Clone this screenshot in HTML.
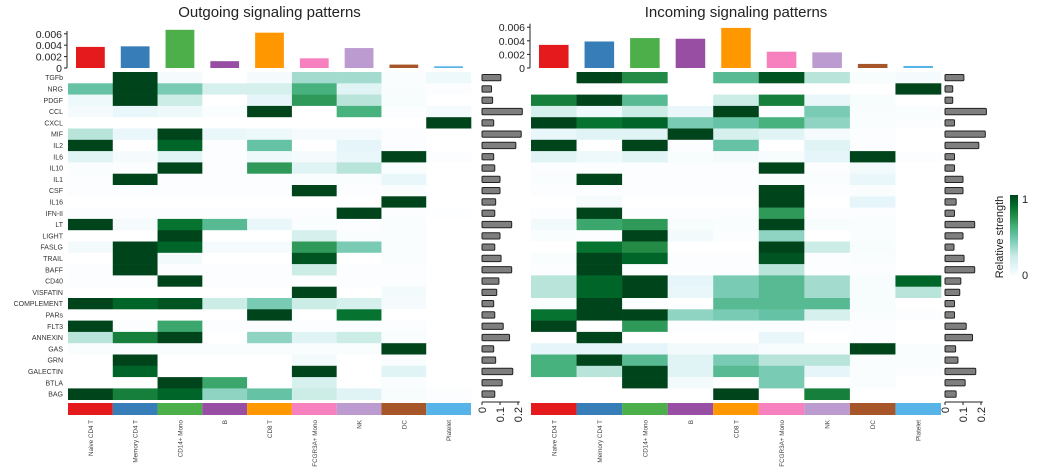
<!DOCTYPE html>
<html><head><meta charset="utf-8">
<style>
html,body{margin:0;padding:0;background:#fff;}
svg{display:block;font-family:"Liberation Sans",Arial,sans-serif;}
</style></head>
<body>
<svg id="chart" width="1037" height="474" viewBox="0 0 1037 474" xmlns="http://www.w3.org/2000/svg"></svg>
<script>
const pathways = ["TGFb","NRG","PDGF","CCL","CXCL","MIF","IL2","IL6","IL10","IL1","CSF","IL16","IFN-II","LT","LIGHT","FASLG","TRAIL","BAFF","CD40","VISFATIN","COMPLEMENT","PARs","FLT3","ANNEXIN","GAS","GRN","GALECTIN","BTLA","BAG"];
const cellTypes = ["Naive CD4 T","Memory CD4 T","CD14+ Mono","B","CD8 T","FCGR3A+ Mono","NK","DC","Platelet"];
const cellColors = ["#e41a1c","#377eb8","#4daf4a","#984ea3","#ff9800","#f781bf","#bc9bd0","#a65628","#56b4e9"];
const outTotals = [0.0037,0.0038,0.0067,0.0012,0.0062,0.0017,0.0035,0.0006,0.0003];
const inTotals = [0.0034,0.0039,0.0044,0.0043,0.0059,0.0024,0.0023,0.0006,0.0003];
const outRowSums = [0.105,0.053,0.059,0.224,0.065,0.218,0.188,0.065,0.071,0.1,0.1,0.076,0.071,0.165,0.1,0.071,0.106,0.165,0.094,0.082,0.065,0.071,0.118,0.153,0.065,0.076,0.171,0.112,0.071];
const inRowSums = [0.105,0.043,0.043,0.23,0.053,0.224,0.188,0.053,0.053,0.1,0.1,0.062,0.053,0.165,0.1,0.05,0.106,0.165,0.088,0.082,0.053,0.053,0.118,0.153,0.059,0.072,0.171,0.112,0.062];
const outMatrix = [
[0,1,0.05,0,0.05,0.35,0.35,0.03,0.08],
[0.5,1,0.45,0.2,0.2,0.6,0.15,0.03,0.02],
[0.08,1,0.25,0,0.12,0.7,0.3,0.04,0],
[0.05,0.1,0.08,0.03,1,0,0.6,0.02,0.05],
[0,0,0,0,0,0,0,0,1],
[0.3,0.1,1,0.1,0.08,0.05,0.05,0.02,0],
[1,0,0.9,0.02,0.5,0,0.12,0.02,0],
[0.15,0.05,0.15,0.02,0.08,0.05,0.1,1,0.02],
[0.03,0.02,1,0.02,0.7,0.15,0.3,0.03,0],
[0.02,1,0.02,0.02,0.02,0.03,0.03,0.1,0],
[0.02,0.02,0.02,0.02,0.02,1,0.02,0.03,0],
[0,0,0,0,0,0,0,1,0],
[0.02,0.02,0.02,0.02,0.02,0.02,1,0.02,0.01],
[1,0.05,0.85,0.55,0.1,0.03,0.02,0.03,0],
[0,0,1,0,0,0.2,0.03,0.03,0],
[0.06,1,0.9,0.05,0.05,0.7,0.45,0.03,0],
[0,1,0.06,0,0,0.95,0,0.03,0],
[0.02,1,0.02,0.02,0.02,0.25,0.02,0.02,0],
[0.02,0.02,1,0.02,0.02,0.02,0.02,0.02,0],
[0,0,0,0,0,1,0,0.06,0],
[1,0.9,0.95,0.25,0.45,0.25,0.2,0.05,0],
[0,0,0,0,1,0,0.85,0,0],
[1,0.02,0.65,0.02,0.02,0.02,0.02,0.02,0],
[0.3,0.8,1,0,0.4,0.15,0.25,0.03,0],
[0.03,0.03,0.03,0.03,0.03,0.03,0.03,1,0],
[0,1,0,0,0,0.06,0,0.03,0],
[0,0.9,0,0,0,1,0,0.15,0],
[0,0,1,0.65,0,0.2,0,0.03,0],
[1,0.8,0.9,0.4,0.5,0.25,0.15,0.04,0.02]];
const inMatrix = [
[0,1,0.75,0,0.55,0.95,0.3,0.04,0.05],
[0,0,0,0,0,0,0,0,1],
[0.8,1,0.55,0,0.25,0.8,0.1,0.04,0],
[0.2,0.08,0.25,0.1,1,0.02,0.45,0.03,0.03],
[1,0.85,0.9,0.45,0.5,0.6,0.4,0.03,0.02],
[0.1,0.15,0.15,1,0.2,0.15,0.05,0.02,0],
[1,0,1,0.02,0.5,0,0.15,0.02,0],
[0.15,0.08,0.15,0.04,0.06,0.04,0.12,1,0.02],
[0.02,0.02,0.02,0.02,0.02,1,0.02,0.06,0],
[0.03,1,0.02,0.02,0.02,0.03,0.03,0.1,0],
[0.02,0.02,0.02,0.02,0.02,1,0.02,0.03,0],
[0,0.05,0,0,0,1,0,0.12,0],
[0.02,1,0.02,0.02,0.02,0.7,0.02,0.02,0],
[0.06,0.65,0.7,0.04,0.03,1,0.04,0.03,0],
[0.03,0.02,1,0.06,0.02,0.4,0,0.03,0],
[0,0.85,0.75,0,0,1,0.25,0.04,0],
[0.03,1,0.9,0.02,0.02,0.95,0.02,0.03,0],
[0.02,1,0.02,0.02,0.02,0.3,0.02,0.02,0],
[0.3,0.9,1,0.12,0.45,0.55,0.35,0.04,0.9],
[0.3,0.9,1,0.1,0.45,0.55,0.35,0.04,0.3],
[0.03,1,0.02,0,0.55,0.55,0.55,0.04,0],
[0.85,1,1,0.4,0.45,0.5,0.2,0.03,0.02],
[1,0,0.7,0.02,0.02,0.02,0.02,0.02,0],
[0,1,0,0,0,0.1,0,0.02,0],
[0.12,0.12,0.12,0.06,0.06,0.04,0.04,1,0.03],
[0.6,1,0.55,0.15,0.45,0.3,0.3,0.03,0.03],
[0.6,0.3,1,0.15,0.55,0.45,0.12,0.03,0.02],
[0,0,1,0.06,0,0.45,0,0.03,0],
[0,0,0,0,1,0,0.8,0,0]];
const topTicks = [0,0.002,0.004,0.006];
const sideTicks = [0,0.1,0.2];

const NS="http://www.w3.org/2000/svg";
const svg=document.getElementById('chart');
function mk(tag,attrs,parent,text){const e=document.createElementNS(NS,tag);for(const k in attrs)e.setAttribute(k,attrs[k]);if(text!==undefined)e.textContent=text;(parent||svg).appendChild(e);return e;}
const stops=["#ffffff","#e5f5f9","#ccece6","#99d8c9","#66c2a4","#41ae76","#238b45","#006d2c","#00441b"];
function hex(h){return [parseInt(h.slice(1,3),16),parseInt(h.slice(3,5),16),parseInt(h.slice(5,7),16)];}
function color(v){v=Math.max(0,Math.min(1,v));const t=v*(stops.length-1);const i=Math.min(stops.length-2,Math.floor(t));const f=t-i;const a=hex(stops[i]),b=hex(stops[i+1]);return "rgb("+a.map((x,k)=>Math.round(x+(b[k]-x)*f)).join(",")+")";}

const rowTop=72,rowH=11.3;
function yRow(i){return rowTop+i*rowH;}

function panel(opt){
  const g=mk('g',{});
  
  
  const cw=(opt.x1-opt.x0)/cellTypes.length;
  const xCol=j=>opt.x0+j*cw;
  const t=mk('text',{x:(opt.x0+opt.x1)/2,y:17,'text-anchor':'middle','font-size':15,fill:'#222'},g,opt.title);
  
  
  const yBar=v=>68-v*opt.barScale;
  const ax=opt.x0-1;
  const axl=mk('line',{x1:ax,x2:ax,y1:yBar(0.0065),y2:68,stroke:'#222','stroke-width':1},g);
  
  
  topTicks.forEach(tv=>{
    mk('line',{x1:ax-3,x2:ax,y1:yBar(tv),y2:yBar(tv),stroke:'#222'},g);
    const tl=mk('text',{x:ax-5,y:yBar(tv)+4,'text-anchor':'end','font-size':10.5,fill:'#222'},g,String(tv));
    
    
  });
  opt.totals.forEach((v,j)=>{
    const r=mk('rect',{x:xCol(j)+8,y:yBar(v),width:cw-16,height:v*opt.barScale,fill:cellColors[j]},g);
    
    
  });
  opt.matrix.forEach((row,i)=>{
    row.forEach((v,j)=>{
      const c=mk('rect',{x:xCol(j),y:yRow(i),width:cw+0.3,height:rowH+0.3,fill:color(v)},g);
      
      
    });
  });
  if(opt.rowLabels){
    pathways.forEach((p,i)=>{
      const l=mk('text',{x:opt.x0-5,y:yRow(i)+rowH/2+2.5,'text-anchor':'end','font-size':7,fill:'#333'},g,p);
      
      
    });
  }
  cellTypes.forEach((c,j)=>{
    const s=mk('rect',{x:xCol(j),y:403,width:cw,height:12,fill:cellColors[j]},g);
    
    
    const cx=xCol(j)+cw/2+2.5;
    const l=mk('text',{x:cx,y:420,'text-anchor':'end','font-size':6.3,fill:'#444',transform:'rotate(-90 '+cx+' 420)'},g,c);
    
    
  });
  const sx=opt.sideX, sScale=180;
  opt.rowSums.forEach((v,i)=>{
    const b=mk('rect',{x:sx,y:yRow(i)+2.5,width:v*sScale,height:rowH-5,fill:'#7f7f7f',stroke:'#222','stroke-width':1,rx:1},g);
    
    
  });
  const sa=mk('line',{x1:sx,x2:sx+0.21*sScale,y1:402,y2:402,stroke:'#222'},g);
  
  
  sideTicks.forEach(tv=>{
    const tx=sx+tv*sScale;
    mk('line',{x1:tx,x2:tx,y1:402,y2:405,stroke:'#222'},g);
    const l=mk('text',{x:tx+4,y:407,'text-anchor':'end','font-size':11,fill:'#222',transform:'rotate(-90 '+(tx+4)+' 407)'},g,String(tv));
    
    
  });
}
panel({name:'outgoing-panel',title:'Outgoing signaling patterns',x0:68,x1:471,barScale:5700,totals:outTotals,matrix:outMatrix,rowSums:outRowSums,sideX:482,rowLabels:true});
panel({name:'incoming-panel',title:'Incoming signaling patterns',x0:531,x1:941,barScale:6800,totals:inTotals,matrix:inMatrix,rowSums:inRowSums,sideX:945,rowLabels:false});

const lg=mk('g',{});


const defs=mk('defs',{},lg);
const grad=mk('linearGradient',{id:'lgGrad',x1:0,y1:1,x2:0,y2:0},defs);
stops.forEach((s,i)=>mk('stop',{offset:(i/(stops.length-1)),'stop-color':s},grad));
const bar=mk('rect',{x:1010,y:195,width:8,height:82,fill:'url(#lgGrad)'},lg);


const l1=mk('text',{x:1022,y:203,'font-size':11,fill:'#222'},lg,'1');


const l0=mk('text',{x:1022,y:279,'font-size':11,fill:'#222'},lg,'0');


const lt=mk('text',{x:1003,y:237,'text-anchor':'middle','font-size':11,fill:'#222',transform:'rotate(-90 1003 237)'},lg,'Relative strength');


</script>
</body></html>
